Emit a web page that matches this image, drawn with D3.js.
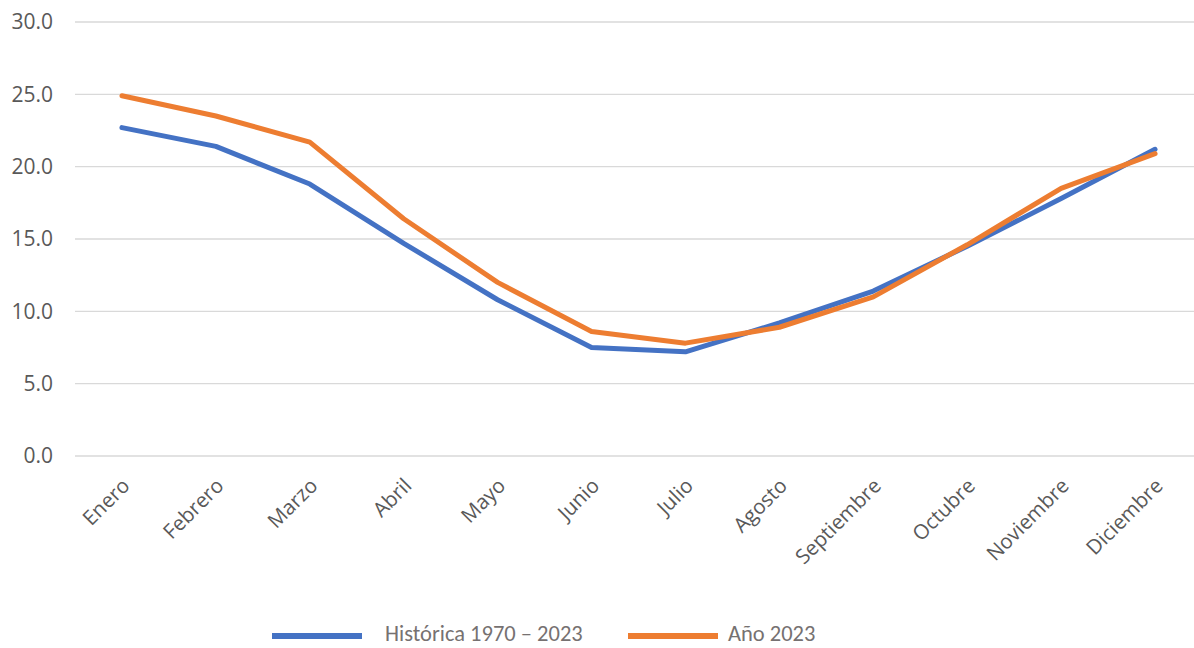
<!DOCTYPE html>
<html>
<head>
<meta charset="utf-8">
<script src="https://cdn.jsdelivr.net/npm/d3@7"></script>
<style>
  body { margin: 0; background: #fff; }
  text { font-family: "Open Sans", "Noto Sans", sans-serif; }
</style>
</head>
<body>
<div id="chart"></div>
<script>
const months = ['Enero', 'Febrero', 'Marzo', 'Abril', 'Mayo', 'Junio', 'Julio',
  'Agosto', 'Septiembre', 'Octubre', 'Noviembre', 'Diciembre'];
const historica = [22.7, 21.4, 18.8, 14.7, 10.8, 7.5, 7.2, 9.2, 11.4, 14.5, 17.8, 21.2];
const anio2023 = [24.9, 23.5, 21.7, 16.4, 12.0, 8.6, 7.8, 8.9, 11.0, 14.6, 18.5, 20.9];
const yTicks = [0, 5, 10, 15, 20, 25, 30];
const seriesNames = ['Histórica 1970 – 2023', 'Año 2023'];
const colors = ['#4472C4', '#ED7D31'];

const width = 1194;
const height = 648;
const margin = { top: 22, left: 75, bottom: 192 };
// plot area runs a bit past the right edge of the window, as in the source
const plotRight = 1202;

const svg = d3.select('#chart')
  .append('svg')
  .attr('width', width)
  .attr('height', height);

const x = d3.scaleBand()
  .domain(months)
  .range([margin.left, plotRight]);

const y = d3.scaleLinear()
  .domain([0, 30])
  .range([height - margin.bottom, margin.top]);

// gridlines
svg.append('g')
  .selectAll('line')
  .data(yTicks)
  .join('line')
  .attr('x1', margin.left)
  .attr('x2', plotRight)
  .attr('y1', (d) => y(d))
  .attr('y2', (d) => y(d))
  .attr('stroke', '#d9d9d9')
  .attr('stroke-width', 1.3);

// y axis labels
svg.append('g')
  .selectAll('text')
  .data(yTicks)
  .join('text')
  .attr('x', 53)
  .attr('y', (d) => y(d))
  .attr('dy', '0.35em')
  .attr('text-anchor', 'end')
  .attr('fill', '#595959')
  .attr('font-size', 21)
  .text((d) => d.toFixed(1));

// x axis labels, rotated
svg.append('g')
  .selectAll('text')
  .data(months)
  .join('text')
  .attr('transform', (d) => `translate(${x(d) + x.bandwidth() / 2 + 4},${y(0) + 26}) rotate(-45)`)
  .attr('text-anchor', 'end')
  .attr('dy', '0.35em')
  .attr('fill', '#595959')
  .attr('font-size', 20.5)
  .text((d) => d);

// lines
const line = d3.line()
  .x((d, i) => x(months[i]) + x.bandwidth() / 2)
  .y((d) => y(d));

[historica, anio2023].forEach((s, i) => {
  svg.append('path')
    .datum(s)
    .attr('fill', 'none')
    .attr('stroke', colors[i])
    .attr('stroke-width', 5)
    .attr('stroke-linejoin', 'round')
    .attr('stroke-linecap', 'round')
    .attr('d', line);
});

// legend
const legendItems = [
  { x: 272, textX: 385 },
  { x: 628, textX: 728 },
];
const legend = svg.append('g');
legendItems.forEach((it, i) => {
  legend.append('line')
    .attr('x1', it.x)
    .attr('x2', it.x + 90)
    .attr('y1', 636)
    .attr('y2', 636)
    .attr('stroke', colors[i])
    .attr('stroke-width', 6);
  legend.append('text')
    .attr('x', it.textX)
    .attr('y', 641)
    .attr('fill', '#767171')
    .attr('font-size', 22.5)
    .style('font-family', 'Carlito, Lato, sans-serif')
    .text(seriesNames[i]);
});
</script>
</body>
</html>
